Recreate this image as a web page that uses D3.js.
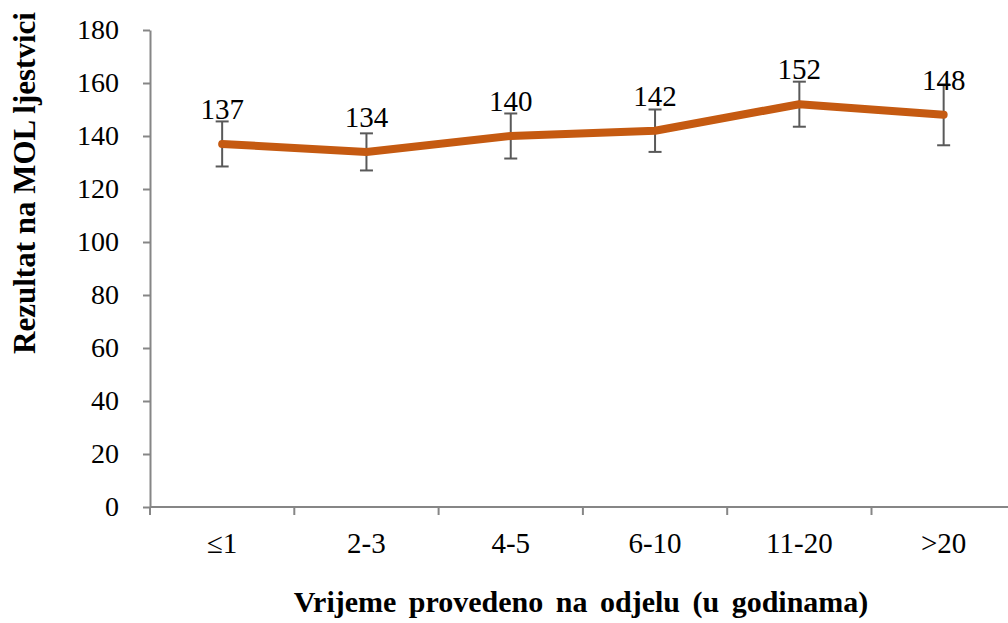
<!DOCTYPE html>
<html>
<head>
<meta charset="utf-8">
<script src="https://cdn.jsdelivr.net/npm/d3@7"></script>
<style>
  body { margin: 0; background: #fff; }
  svg text { font-family: "Liberation Serif", Tinos, "Times New Roman", "DejaVu Serif", serif !important; }
</style>
</head>
<body>
<div id="chart"></div>
<script>
// time on ward vs MOL score

var categories = ["≤1", "2-3", "4-5", "6-10", "11-20", ">20"];
var scores = [137, 134, 140, 142, 152, 148];
var errors = [8.5, 7, 8.5, 8, 8.5, 11.5];
var yTicks = [0, 20, 40, 60, 80, 100, 120, 140, 160, 180];

var svgWidth = 1008;
var svgHeight = 623;

var svg = d3.select("#chart")
  .append("svg")
  .attr("width", svgWidth)
  .attr("height", svgHeight);

var xScale = d3.scaleBand()
  .domain(categories)
  .range([150, 150 + 6 * 144.3]);

var yScale = d3.scaleLinear()
  .domain([0, 180])
  .range([507, 30]);

var axisColor = "#868686";

// y axis
var leftAxis = d3.axisLeft(yScale)
  .tickValues(yTicks)
  .tickSize(7)
  .tickSizeOuter(0)
  .tickPadding(24);

var gy = svg.append("g")
  .attr("transform", "translate(150,0)")
  .call(leftAxis)
  .attr("font-family", null);
gy.select(".domain").attr("stroke", axisColor).attr("stroke-width", 2);
gy.selectAll(".tick line").attr("stroke", axisColor).attr("stroke-width", 2);
gy.selectAll(".tick text")
  .attr("font-size", "28px")
  .attr("fill", "#000");

// x axis line + boundary ticks
svg.append("line")
  .attr("x1", 150).attr("x2", 1016)
  .attr("y1", yScale(0)).attr("y2", yScale(0))
  .attr("stroke", axisColor)
  .attr("stroke-width", 2);

svg.append("g")
  .selectAll("line")
  .data(categories.concat(["end"]))
  .enter()
  .append("line")
  .attr("x1", function(d, i) { return i < categories.length ? xScale(d) : xScale.range()[1]; })
  .attr("x2", function(d, i) { return i < categories.length ? xScale(d) : xScale.range()[1]; })
  .attr("y1", yScale(0))
  .attr("y2", yScale(0) + 8)
  .attr("stroke", axisColor)
  .attr("stroke-width", 2);

svg.append("g")
  .selectAll("text")
  .data(categories)
  .enter()
  .append("text")
  .attr("x", function(d) { return xScale(d) + xScale.bandwidth() / 2; })
  .attr("y", 553)
  .attr("text-anchor", "middle")
  .attr("font-size", "29px")
  .text(function(d) { return d; });

// error bars
var bars = svg.append("g")
  .selectAll("g")
  .data(scores)
  .enter()
  .append("g")
  .attr("stroke", "#595959")
  .attr("stroke-width", 2);

var cx = function(d, i) { return xScale(categories[i]) + xScale.bandwidth() / 2; };

bars.append("line")
  .attr("x1", cx).attr("x2", cx)
  .attr("y1", function(d, i) { return yScale(d + errors[i]); })
  .attr("y2", function(d, i) { return yScale(d - errors[i]); });
bars.append("line")
  .attr("x1", function(d, i) { return cx(d, i) - 6.5; })
  .attr("x2", function(d, i) { return cx(d, i) + 6.5; })
  .attr("y1", function(d, i) { return yScale(d + errors[i]); })
  .attr("y2", function(d, i) { return yScale(d + errors[i]); });
bars.append("line")
  .attr("x1", function(d, i) { return cx(d, i) - 6.5; })
  .attr("x2", function(d, i) { return cx(d, i) + 6.5; })
  .attr("y1", function(d, i) { return yScale(d - errors[i]); })
  .attr("y2", function(d, i) { return yScale(d - errors[i]); });

// the line
var line = d3.line()
  .x(function(d, i) { return cx(d, i); })
  .y(function(d) { return yScale(d); });

svg.append("path")
  .datum(scores)
  .attr("d", line)
  .attr("fill", "none")
  .attr("stroke", "#C55A11")
  .attr("stroke-width", 8)
  .attr("stroke-linecap", "round")
  .attr("stroke-linejoin", "round");

// value labels
svg.append("g")
  .selectAll("text")
  .data(scores)
  .enter()
  .append("text")
  .attr("x", cx)
  .attr("y", function(d) { return yScale(d) - 25; })
  .attr("text-anchor", "middle")
  .attr("font-size", "29px")
  .attr("fill", "#000")
  .text(function(d) { return d; });

// axis titles
svg.append("text")
  .attr("transform", "translate(35,183) rotate(-90)")
  .attr("text-anchor", "middle")
  .attr("font-weight", "bold")
  .attr("font-size", "31px")
  .text("Rezultat na MOL ljestvici");

svg.append("text")
  .attr("x", 581)
  .attr("y", 612)
  .attr("text-anchor", "middle")
  .attr("font-weight", "bold")
  .attr("font-size", "30px")
  .attr("word-spacing", "5px")
  .text("Vrijeme provedeno na odjelu (u godinama)");
</script>
</body>
</html>
